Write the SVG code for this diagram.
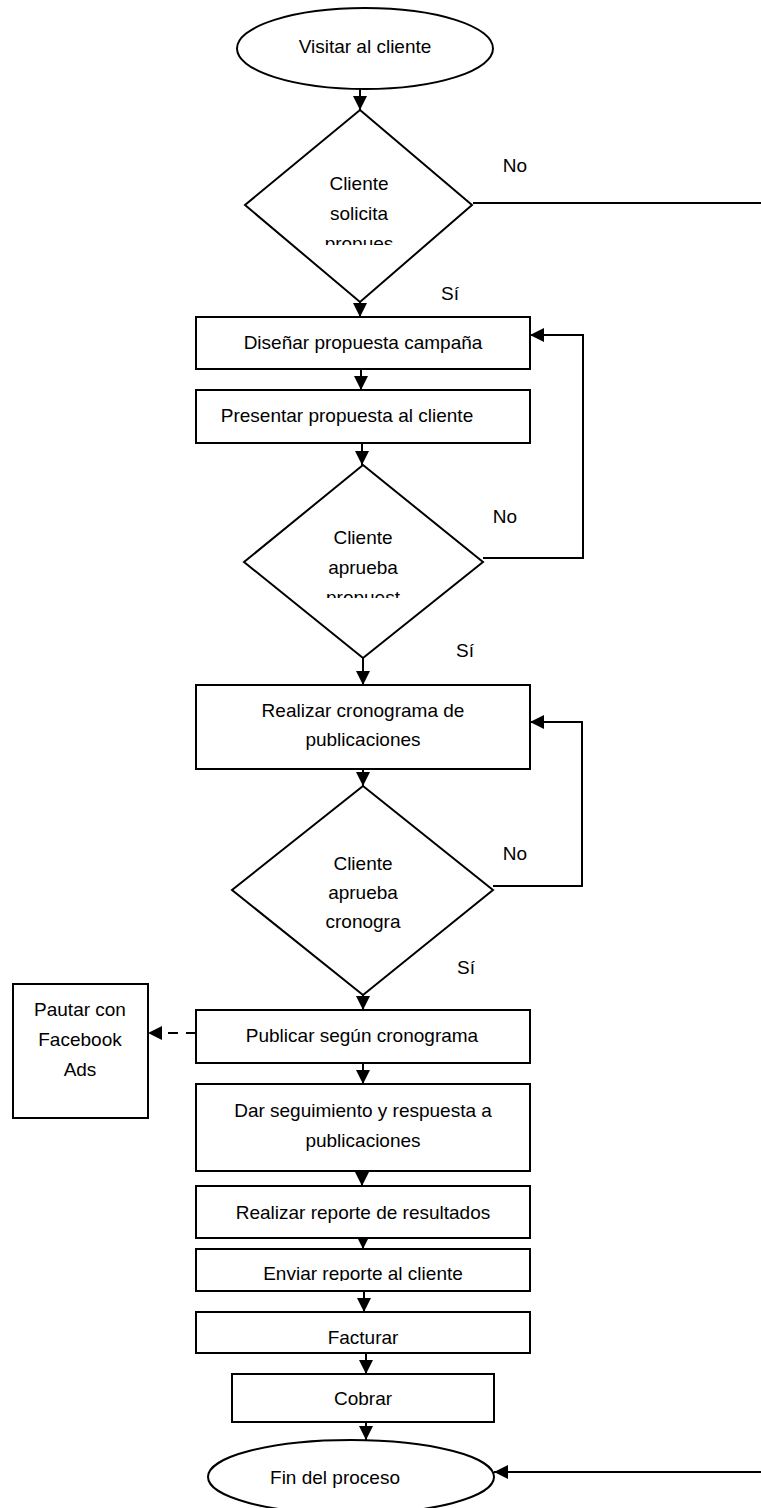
<svg xmlns="http://www.w3.org/2000/svg" width="761" height="1508" viewBox="0 0 761 1508">
<style>
.s{fill:#fff;stroke:#000;stroke-width:2}
.t{font-family:"Liberation Sans",Arial,sans-serif;font-size:19px;fill:#000;text-anchor:middle}
.c{fill:none;stroke:#000;stroke-width:2}
.d{stroke-dasharray:10,8}
</style>
<defs>
<marker id="ah" viewBox="0 0 14 14" refX="14" refY="7" markerWidth="14" markerHeight="14" orient="auto" markerUnits="userSpaceOnUse"><path d="M0,0 L14,7 L0,14 z" fill="#000"/></marker>
<clipPath id="cp1"><rect x="240" y="100" width="240" height="145"/></clipPath>
<clipPath id="cp2"><rect x="240" y="460" width="250" height="138"/></clipPath>
<clipPath id="cp3"><rect x="196" y="1248" width="334" height="33"/></clipPath>
</defs>
<rect width="761" height="1508" fill="#fff"/>
<g id="connectors">
<path class="c" d="M360,89 V110" marker-end="url(#ah)"/>
<path class="c" d="M473,203 H761"/>
<path class="c" d="M360,300 V317" marker-end="url(#ah)"/>
<path class="c" d="M361,369 V390" marker-end="url(#ah)"/>
<path class="c" d="M362,443 V465" marker-end="url(#ah)"/>
<path class="c" d="M483,558 H583 V335 H530" marker-end="url(#ah)"/>
<path class="c" d="M363,658 V685" marker-end="url(#ah)"/>
<path class="c" d="M493,886 H582 V722 H530" marker-end="url(#ah)"/>
<path class="c" d="M363,769 V786" marker-end="url(#ah)"/>
<path class="c" d="M363,995 V1010" marker-end="url(#ah)"/>
<path class="c d" d="M196,1033 H148" marker-end="url(#ah)"/>
<path class="c" d="M363,1054 V1084" marker-end="url(#ah)"/>
<path class="c" d="M362,1157 V1186" marker-end="url(#ah)"/>
<path class="c" d="M363,1238 V1249" marker-end="url(#ah)"/>
<path class="c" d="M364,1291 V1312" marker-end="url(#ah)"/>
<path class="c" d="M366,1353 V1374" marker-end="url(#ah)"/>
<path class="c" d="M366,1422 V1440" marker-end="url(#ah)"/>
<path class="c" d="M761,1472 H494" marker-end="url(#ah)"/>
</g>
<g id="n-visitar"><ellipse class="s" cx="365" cy="48.5" rx="128" ry="40.5"/><text class="t" x="365" y="53">Visitar al cliente</text></g>
<g id="n-solicita"><polygon class="s" points="360,110 472,205 360,302 245,205"/>
<g clip-path="url(#cp1)"><text class="t" x="359" y="190">Cliente</text><text class="t" x="359" y="220">solicita</text><text class="t" x="359" y="250">propues</text></g></g>
<g id="n-disenar"><rect class="s" x="196" y="317" width="334" height="52"/><text class="t" x="363" y="349">Diseñar propuesta campaña</text></g>
<g id="n-presentar"><rect class="s" x="196" y="390" width="334" height="53"/><text class="t" x="347" y="422">Presentar propuesta al cliente</text></g>
<g id="n-aprueba1"><polygon class="s" points="363,465 483,562 363,658 244,562"/>
<g clip-path="url(#cp2)"><text class="t" x="363" y="544">Cliente</text><text class="t" x="363" y="574">aprueba</text><text class="t" x="363" y="604">propuest</text></g></g>
<g id="n-cronograma"><rect class="s" x="196" y="685" width="334" height="84"/><text class="t" x="363" y="717">Realizar cronograma de</text><text class="t" x="363" y="746">publicaciones</text></g>
<g id="n-aprueba2"><polygon class="s" points="363,786 493,890 363,995 232,890"/><text class="t" x="363" y="870">Cliente</text><text class="t" x="363" y="899">aprueba</text><text class="t" x="363" y="928">cronogra</text></g>
<g id="n-pautar"><rect class="s" x="13" y="984" width="135" height="134"/><text class="t" x="80" y="1016">Pautar con</text><text class="t" x="80" y="1046">Facebook</text><text class="t" x="80" y="1076">Ads</text></g>
<g id="n-publicar"><rect class="s" x="196" y="1010" width="334" height="53"/><text class="t" x="362" y="1042">Publicar según cronograma</text></g>
<g id="n-seguimiento"><rect class="s" x="196" y="1084" width="334" height="87"/><text class="t" x="363" y="1117">Dar seguimiento y respuesta a</text><text class="t" x="363" y="1147">publicaciones</text></g>
<g id="n-reporte"><rect class="s" x="196" y="1186" width="334" height="52"/><text class="t" x="363" y="1219">Realizar reporte de resultados</text></g>
<g id="n-enviar"><rect class="s" x="196" y="1249" width="334" height="42"/><text class="t" x="363" y="1280" clip-path="url(#cp3)">Enviar reporte al cliente</text></g>
<g id="n-facturar"><rect class="s" x="196" y="1312" width="334" height="41"/><text class="t" x="363" y="1344">Facturar</text></g>
<g id="n-cobrar"><rect class="s" x="232" y="1374" width="262" height="48"/><text class="t" x="363" y="1405">Cobrar</text></g>
<g id="n-fin"><ellipse class="s" cx="351" cy="1477" rx="143" ry="37"/><text class="t" x="335" y="1484">Fin del proceso</text></g>
<g id="labels">
<text class="t" x="515" y="172">No</text>
<text class="t" x="450" y="300">Sí</text>
<text class="t" x="505" y="523">No</text>
<text class="t" x="465" y="657">Sí</text>
<text class="t" x="515" y="860">No</text>
<text class="t" x="466" y="974">Sí</text>
</g>
</svg>
